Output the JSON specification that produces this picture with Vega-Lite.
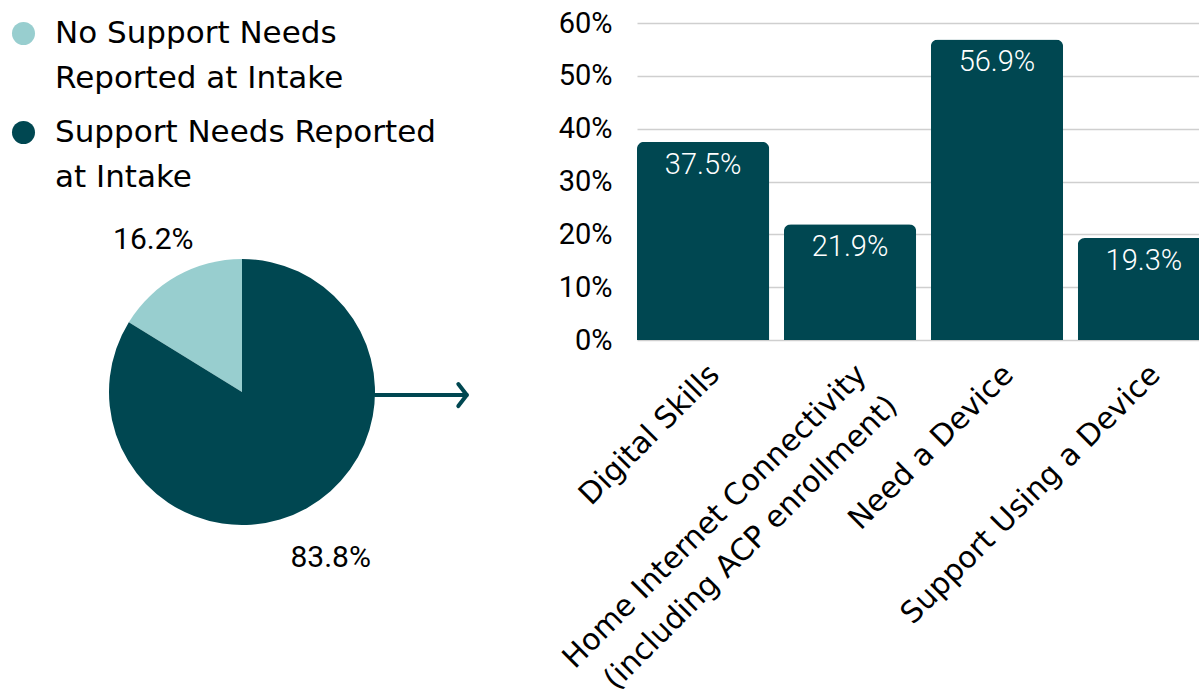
{
  "$schema": "https://vega.github.io/schema/vega-lite/v6.json",
  "padding": {"left": 0, "top": 9, "right": 0, "bottom": 0},
  "background": "white",
  "config": {"view": {"stroke": null}},
  "spacing": 153,
  "bounds": "flush",
  "hconcat": [
    {
      "width": 484,
      "height": 738,
      "layer": [
        {
          "data": {"values": [
            {"group": "No Support Needs Reported at Intake", "share": 0.162, "rank": 2},
            {"group": "Support Needs Reported at Intake", "share": 0.838, "rank": 1}
          ]},
          "layer": [
            {
              "mark": {"type": "arc", "outerRadius": 133},
              "encoding": {
                "theta": {"field": "share", "type": "quantitative", "stack": true},
                "order": {"field": "rank", "type": "quantitative"},
                "color": {
                  "field": "group", "type": "nominal",
                  "scale": {"domain": ["No Support Needs Reported at Intake", "Support Needs Reported at Intake"], "range": ["#98cecf", "#004751"]},
                  "legend": {
                    "title": null, "orient": "none", "legendX": 8, "legendY": -5, "padding": 0,
                    "symbolType": "circle", "symbolSize": 530, "symbolStrokeWidth": 0,
                    "labelFont": "DejaVu Sans", "labelFontSize": 31, "labelColor": "#000",
                    "labelOffset": 16, "labelLimit": 600, "labelBaseline": "top", "rowPadding": 22,
                    "labelExpr": "datum.label == 'No Support Needs Reported at Intake' ? ['No Support Needs', 'Reported at Intake'] : ['Support Needs Reported', 'at Intake']",
                    "encode": {"labels": {"update": {"lineHeight": {"value": 45}, "dy": {"value": -15}}}}
                  }
                }
              }
            },
            {
              "mark": {"type": "text", "radius": 182, "dy": 7, "font": "Roboto", "fontWeight": 400, "fontSize": 30, "color": "#000"},
              "encoding": {
                "theta": {"field": "share", "type": "quantitative", "stack": true},
                "order": {"field": "rank", "type": "quantitative"},
                "text": {"field": "share", "type": "quantitative", "format": ".1%"}
              }
            }
          ]
        },
        {
          "data": {"values": [{"start": 1.0, "end": 1.69, "level": -0.023}]},
          "layer": [
            {
              "mark": {"type": "rule", "color": "#004751", "strokeWidth": 4, "strokeCap": "round"},
              "encoding": {
                "x": {"field": "start", "type": "quantitative", "scale": {"domain": [-1.8195, 1.8195], "nice": false, "zero": false}, "axis": null},
                "x2": {"field": "end"},
                "y": {"field": "level", "type": "quantitative", "scale": {"domain": [-2.7744, 2.7744], "nice": false, "zero": false}, "axis": null}
              }
            },
            {
              "mark": {"type": "point", "shape": "M-0.77,-1L0,0L-0.77,1", "size": 484, "filled": false, "stroke": "#004751", "strokeWidth": 4, "strokeCap": "round", "strokeJoin": "round", "opacity": 1},
              "encoding": {
                "x": {"field": "end", "type": "quantitative"},
                "y": {"field": "level", "type": "quantitative"}
              }
            }
          ]
        }
      ]
    },
    {
      "width": 573,
      "height": 317,
      "data": {"values": [
        {"need": "Digital Skills", "share": 0.375},
        {"need": "Home Internet Connectivity (including ACP enrollment)", "share": 0.219},
        {"need": "Need a Device", "share": 0.569},
        {"need": "Support Using a Device", "share": 0.193}
      ]},
      "encoding": {
        "x": {
          "field": "need", "type": "nominal", "sort": null,
          "scale": {"paddingInner": 0.1, "paddingOuter": 0},
          "axis": {
            "title": null, "domain": false, "ticks": false, "labelAngle": -45, "labelAlign": "right", "labelBaseline": "top",
            "labelPadding": 19, "labelOffset": 1, "labelFont": "DejaVu Sans", "labelFontSize": 30, "labelColor": "#000",
            "labelLimit": 800, "labelLineHeight": 44,
            "labelExpr": "datum.label == 'Home Internet Connectivity (including ACP enrollment)' ? ['Home Internet Connectivity', '(including ACP enrollment)'] : datum.label"
          }
        },
        "y": {
          "field": "share", "type": "quantitative",
          "scale": {"domain": [0, 0.6], "nice": false},
          "axis": {
            "title": null, "domain": false, "ticks": false, "values": [0, 0.1, 0.2, 0.3, 0.4, 0.5, 0.6], "format": ".0%",
            "labelPadding": 25, "labelFont": "Roboto", "labelFontWeight": 400, "labelFontSize": 29, "labelColor": "#000",
            "gridColor": "#cfcfcf", "gridWidth": 1.5
          }
        }
      },
      "layer": [
        {"mark": {"type": "bar", "color": "#004751", "cornerRadiusTopLeft": 7, "cornerRadiusTopRight": 7}},
        {
          "mark": {"type": "text", "color": "white", "baseline": "top", "dy": 9, "font": "Roboto", "fontWeight": 300, "fontSize": 29},
          "encoding": {"text": {"field": "share", "type": "quantitative", "format": ".1%"}}
        }
      ]
    }
  ]
}
